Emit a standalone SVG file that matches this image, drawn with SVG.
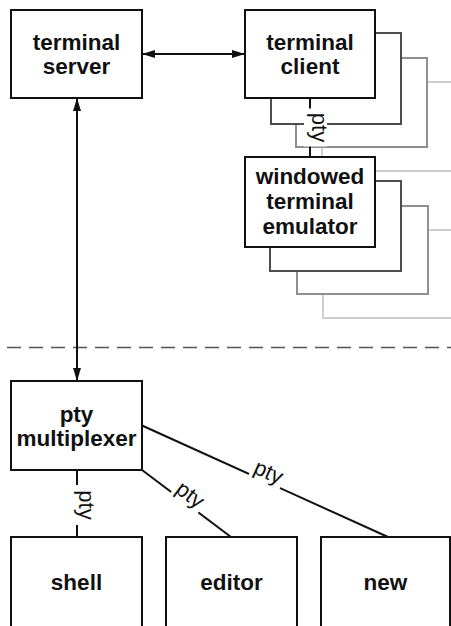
<svg xmlns="http://www.w3.org/2000/svg" width="451" height="626" viewBox="0 0 451 626">
  <defs>
    <marker id="head" viewBox="0 0 13 8" refX="13" refY="4" markerWidth="13" markerHeight="8" markerUnits="userSpaceOnUse" orient="auto-start-reverse">
      <path d="M0,0 L13,4 L0,8 z" fill="#111"/>
    </marker>
  </defs>
  <style>
    .box { fill: #fff; stroke: #111; stroke-width: 2; }
    .sh1 { fill: #fff; stroke: #4d4d4d; stroke-width: 2; }
    .sh2 { fill: #fff; stroke: #8f8f8f; stroke-width: 2; }
    .sh3 { fill: #fff; stroke: #cfcfcf; stroke-width: 2; }
    .lbl { font-family: "Liberation Sans", Arial, sans-serif; font-weight: bold; font-size: 22.5px; fill: #111; text-anchor: middle; }
    .edge { stroke: #111; stroke-width: 2; fill: none; }
    .arrow { stroke: #111; stroke-width: 2; fill: none; marker-start: url(#head); marker-end: url(#head); }
    .pty { font-family: "Liberation Sans", Arial, sans-serif; font-size: 22px; fill: #111; text-anchor: middle; }
    .ptybg { fill: #fff; }
    .divider { stroke: #555; stroke-width: 1.3; stroke-dasharray: 14 8; fill: none; }
  </style>

  <!-- boundary between remote and local sides -->
  <line class="divider" x1="7" y1="347.5" x2="451" y2="347.5"/>

  <g id="terminal-server">
    <rect class="box" x="11" y="10" width="131" height="88"/>
    <text class="lbl" x="76.5" y="50">terminal</text>
    <text class="lbl" x="76.5" y="73.5">server</text>
  </g>

  <g id="terminal-client">
    <rect class="sh3" x="322" y="82" width="140" height="89"/>
    <rect class="sh2" x="296" y="58" width="131" height="89"/>
    <rect class="sh1" x="271" y="33" width="130" height="91"/>
    <rect class="box" x="245" y="10" width="130" height="88"/>
    <text class="lbl" x="310" y="50">terminal</text>
    <text class="lbl" x="310" y="73.5">client</text>
  </g>

  <g id="windowed-terminal-emulator">
    <rect class="sh3" x="323" y="230" width="140" height="88"/>
    <rect class="sh2" x="297" y="206" width="131" height="88"/>
    <rect class="sh1" x="270" y="181" width="131" height="90"/>
    <rect class="box" x="245" y="157" width="130" height="90"/>
    <text class="lbl" x="310" y="183.5">windowed</text>
    <text class="lbl" x="310" y="208.5">terminal</text>
    <text class="lbl" x="310" y="233.5">emulator</text>
  </g>

  <g id="pty-multiplexer">
    <rect class="box" x="11" y="381" width="131" height="89"/>
    <text class="lbl" x="76.5" y="422">pty</text>
    <text class="lbl" x="76.5" y="445.5">multiplexer</text>
  </g>

  <g id="shell">
    <rect class="box" x="11" y="537" width="131" height="110"/>
    <text class="lbl" x="76.5" y="590">shell</text>
  </g>

  <g id="editor">
    <rect class="box" x="166" y="537" width="131" height="110"/>
    <text class="lbl" x="231.5" y="590">editor</text>
  </g>

  <g id="new">
    <rect class="box" x="321" y="537" width="129" height="110"/>
    <text class="lbl" x="385.5" y="590">new</text>
  </g>

  <g id="connectors">
    <line class="arrow" x1="142" y1="54" x2="245" y2="54"/>
    <line class="arrow" x1="77" y1="98" x2="77" y2="381"/>

    <line class="edge" x1="310" y1="98" x2="310" y2="157"/>
    <g transform="translate(310,127.5) rotate(90)">
      <rect class="ptybg" x="-19" y="-17" width="38" height="23"/>
      <text class="pty" x="0" y="-1.5">pty</text>
    </g>

    <line class="edge" x1="77" y1="470" x2="77" y2="537"/>
    <g transform="translate(77,505) rotate(90)">
      <rect class="ptybg" x="-20" y="-17" width="40" height="23"/>
      <text class="pty" x="0" y="-1.5">pty</text>
    </g>

    <line class="edge" x1="142" y1="470" x2="231" y2="537"/>
    <g transform="translate(184.7,502.2) rotate(37)">
      <rect class="ptybg" x="-17" y="-17" width="34" height="23"/>
      <text class="pty" x="0" y="-2">pty</text>
    </g>

    <line class="edge" x1="142" y1="425.5" x2="388" y2="537"/>
    <g transform="translate(264.5,481.1) rotate(24.3)">
      <rect class="ptybg" x="-17" y="-17" width="34" height="23"/>
      <text class="pty" x="0" y="-2.5">pty</text>
    </g>
  </g>
</svg>
